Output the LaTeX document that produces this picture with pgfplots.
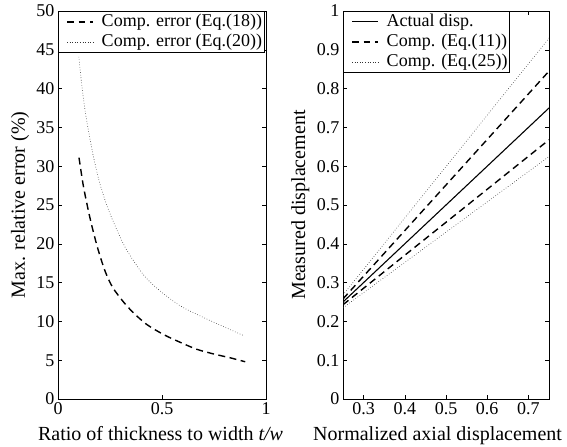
\documentclass[border=0pt]{standalone}
\usepackage{fontspec}
\setmainfont{Liberation Serif}
\usepackage{pgfplots}
\pgfplotsset{compat=1.18}
\newcommand{\ff}{\fontsize{18bp}{20bp}\selectfont}
\newcommand{\fl}{\fontsize{20bp}{22bp}\selectfont}
\begin{document}
\begin{tikzpicture}
\pgfplotsset{every axis/.append style={scale only axis, width=208bp, height=388bp,
 /pgf/number format/assume math mode=true, tick align=inside, major tick length=4bp,
 axis line style={line width=0.7pt}, tick style={line width=0.5pt, black},
 tick label style={font=\ff}, label style={font=\fl},
 legend cell align=left,
 legend image code/.code={\path (-7bp,0bp); \draw[#1] (0bp,0bp) -- (26bp,0bp);},
 legend style={draw=black, line width=0.7pt, font=\ff, inner sep=1bp, row sep=1bp, column sep=7bp,
   nodes={inner sep=1bp, text height=13bp, text depth=4bp},
   at={(0,1)}, anchor=north west}}}
\begin{axis}[xmin=0,xmax=1,ymin=0,ymax=50, xtick={0,0.5,1}, ytick={0,5,10,15,20,25,30,35,40,45,50},
 xlabel={Ratio of thickness to width \textit{t/w}}, ylabel={Max. relative error (\%)},
 xlabel style={at={(axis description cs:0.493,-0.1057)}, anchor=base},
 ylabel style={at={(axis description cs:-0.159,0.5)}, anchor=base}]
\addplot[black, line width=1.4pt, dash pattern=on 7pt off 4.5pt, smooth] coordinates {
(0.101,31.1) (0.121,27.6) (0.141,24.9) (0.161,22.5) (0.189,19.6) (0.218,17.1) (0.24,15.6) (0.267,14.2) (0.315,12.5) (0.363,11.1) (0.427,9.6) (0.508,8.3) (0.588,7.3) (0.668,6.4) (0.749,5.8) (0.829,5.3) (0.9,4.8)};
\addlegendentry{Comp. error (Eq.(18))}
\addplot[black!80, line width=0.6pt, dotted, smooth] coordinates {
(0.1,44.1) (0.115,40.3) (0.13,37.2) (0.145,34.8) (0.161,32.5) (0.177,30.4) (0.201,27.8) (0.234,25.0) (0.27,22.6) (0.326,19.4) (0.411,16.0) (0.492,13.9) (0.588,12.0) (0.684,10.7) (0.781,9.5) (0.89,8.2)};
\addlegendentry{Comp. error (Eq.(20))}
\end{axis}
\begin{axis}[xshift=285bp, width=206bp, xmin=0.25,xmax=0.75,ymin=0,ymax=1, xtick={0.3,0.4,0.5,0.6,0.7}, ytick={0,0.1,0.2,0.3,0.4,0.5,0.6,0.7,0.8,0.9,1},
 xlabel={Normalized axial displacement}, ylabel={Measured displacement},
 xlabel style={at={(axis description cs:1.08,-0.1057)}, anchor=base east},
 ylabel style={at={(axis description cs:-0.184,0.5)}, anchor=base}]
\addplot[black, line width=1.1pt] coordinates {(0.25,0.25) (0.75,0.75)};
\addlegendentry{Actual disp.}
\addplot[black, line width=1.4pt, dash pattern=on 7pt off 4.5pt] coordinates {(0.25,0.258) (0.75,0.845)};
\addlegendentry{Comp. (Eq.(11))}
\addplot[black!80, line width=0.6pt, dotted] coordinates {(0.25,0.268) (0.75,0.93)};
\addlegendentry{Comp. (Eq.(25))}
\addplot[black, line width=1.4pt, dash pattern=on 7pt off 4.5pt, forget plot] coordinates {(0.25,0.243) (0.75,0.668)};
\addplot[black!80, line width=0.6pt, dotted, forget plot] coordinates {(0.25,0.235) (0.75,0.625)};
\end{axis}
\pgfresetboundingbox
\path[use as bounding box] (-58bp,-48bp) rectangle (509bp,399bp);
\end{tikzpicture}
\end{document}
